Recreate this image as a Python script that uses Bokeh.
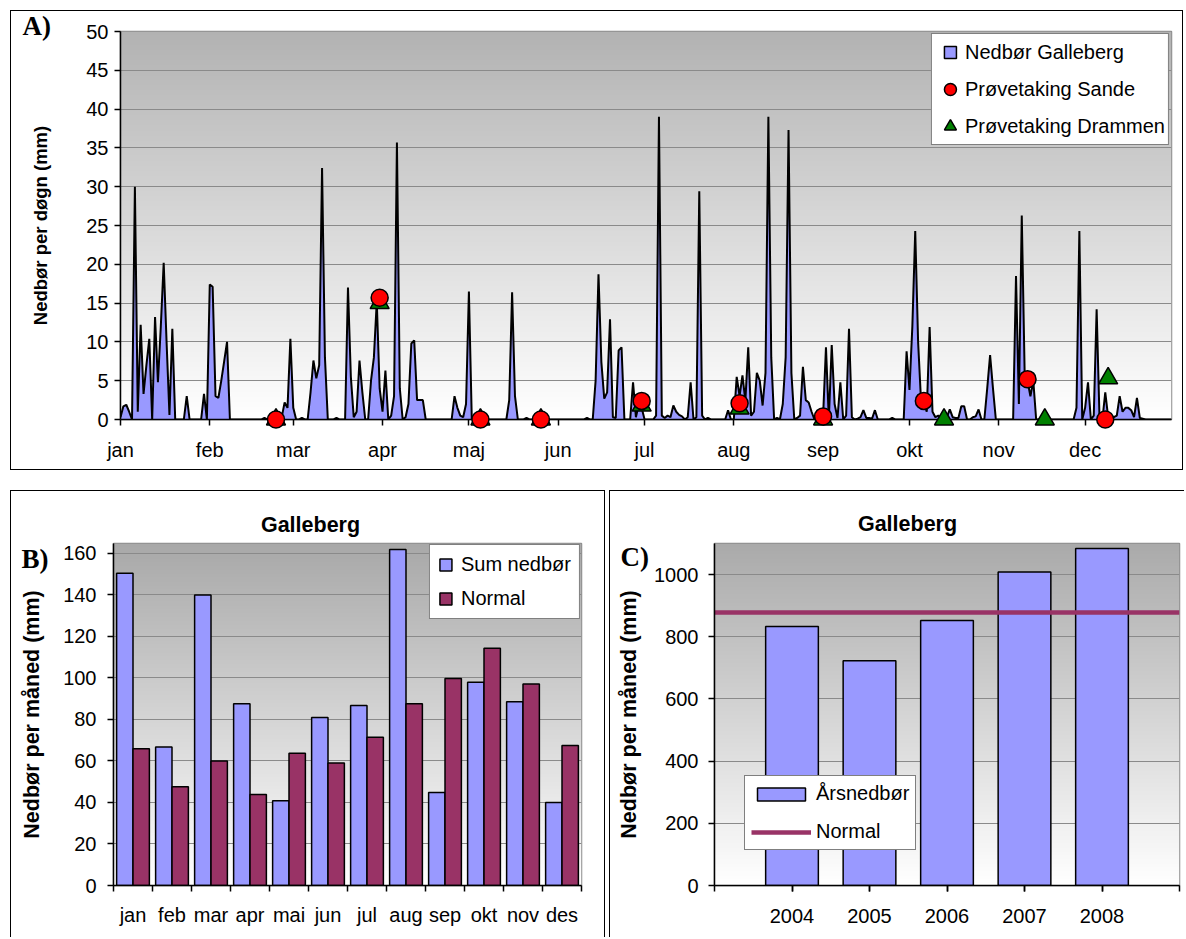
import numpy as np
from bokeh.plotting import figure
from bokeh.models import (Range1d, FixedTicker, SingleIntervalTicker, Legend, LegendItem,
                          Spacer)
from bokeh.layouts import column, row
from bokeh.embed import file_html
from bokeh.resources import INLINE
from bokeh.transform import dodge
from bokeh.core.properties import value

# ---------------- Panel A: daily precipitation Galleberg 2008 (mm) ----------------
jan = [0.3, 1.7, 1.9, 1.0, 0, 30, 1.0, 12.2, 3.3, 7, 10.4, 0, 13.2, 4.8, 12, 20.2, 10, 0.6, 11.7,
       0, 0, 0, 0, 3.0, 0, 0, 0, 0, 0, 3.3, 0]
feb = [17.4, 17.1, 3.0, 2.8, 5.0, 7.5, 10.0, 0, 0, 0, 0, 0, 0, 0, 0, 0, 0, 0, 0, 0.2, 0, 0, 0, 0,
       0, 0.3, 2.2, 1.5, 10.4]
mar = [1.5, 0, 0, 0.2, 0, 0, 3.5, 7.6, 5.3, 7.0, 32.4, 8, 0, 0, 0, 0.2, 0, 0, 0, 17.0, 5.5, 0.3,
       1.0, 7.6, 3.5, 0, 0, 5.0, 8.0, 15.2, 4]
apr = [1.0, 6.3, 0, 0.5, 3.0, 35.7, 4, 0, 0.3, 2.0, 9.8, 10.2, 2.5, 2.5, 2.5, 0, 0, 0, 0, 0, 0, 0,
       0, 0, 0, 3.0, 1.5, 0.5, 0.3, 2.0]
mai = [16.5, 0, 0, 0, 0, 0, 0, 0, 0, 0, 0, 0, 0, 0, 2.5, 16.4, 3.0, 0, 0, 0, 0.2, 0, 0, 0, 0, 0,
       0, 0, 0, 0, 0]
jun = [0, 0, 0, 0, 0, 0, 0, 0, 0, 0, 0.2, 0, 0, 5, 18.7, 7.4, 2.7, 3.5, 12.9, 0.3, 0.2, 8.9, 9.3,
       0, 0, 0, 4.8, 0.3, 2.0, 1.5]
jul = [0, 0, 0, 0, 0.5, 39, 0.5, 0.2, 0.5, 0.3, 1.8, 1.0, 0.6, 0.4, 0, 0.3, 4.8, 0, 0.3, 29.4,
       0.5, 0, 0.2, 0, 0, 0, 0, 0, 0, 1.2, 0]
aug = [0, 5.5, 3.0, 5.7, 2.4, 9.3, 0.5, 1.0, 6.0, 5.0, 1.8, 6, 39, 8, 0, 0.2, 0, 2, 8, 37.3, 6,
       0, 0.2, 0.5, 6.8, 2.5, 2.2, 1.0, 0, 0, 0]
sep = [0.4, 9.3, 0, 9.6, 2.0, 0.2, 4.8, 0, 0.5, 11.7, 0.3, 0, 0.1, 0.3, 1.2, 0.2, 0.2, 0.1, 1.2,
       0, 0, 0, 0, 0, 0.2, 0, 0, 0, 0, 8.8]
okt = [3.8, 12, 24.3, 10, 2.5, 2.2, 1.0, 11.9, 1.0, 0.3, 0.5, 0.2, 0, 0.3, 1.3, 0.3, 0.2, 0.2,
       1.7, 1.7, 0, 0, 0.3, 0.4, 1.3, 0, 0, 4, 8.3, 4, 0]
nov = [0, 0, 0, 0, 0, 0, 18.5, 2.0, 26.3, 6, 5, 3, 5, 0, 0, 0, 0, 0, 0, 0, 0, 0, 0, 0, 0, 0, 0,
       1.5, 24.3, 0]
dec = [1.5, 4.8, 0, 0.5, 14.2, 0.2, 0, 3.5, 0.3, 0.2, 0.3, 0.5, 3.0, 1.0, 1.5, 1.5, 1.2, 0.3,
       2.8, 0.2, 0.1, 0, 0, 0, 0, 0, 0, 0, 0, 0, 0]
month_labels_a = ["jan", "feb", "mar", "apr", "maj", "jun", "jul", "aug", "sep", "okt", "nov", "dec"]

# sampling days (day of year, 0 = 1 Jan) and plotted values
sande_days = [54, 90, 125, 146, 181, 215, 244, 279, 315, 342]
sande_vals = [0, 15.7, 0, 0, 2.4, 2.1, 0.4, 2.4, 5.2, 0]
drammen_days = [54, 90, 125, 146, 181, 215, 244, 286, 321, 343]
drammen_vals = [0, 15.0, 0, 0, 1.8, 1.4, 0, 0, 0, 5.3]

# ---------------- Panel B: monthly sums ----------------
months_b = ["jan", "feb", "mar", "apr", "mai", "jun", "jul", "aug", "sep", "okt", "nov", "des"]
sum_nedbor = [150.5, 66.7, 140, 87.6, 40.8, 81, 86.7, 161.9, 44.8, 97.9, 88.6, 40]
normal_month = [65.9, 47.6, 60, 43.8, 63.7, 59, 71.4, 87.6, 99.8, 114.3, 97.1, 67.5]

# ---------------- Panel C: yearly sums ----------------
years = [2004, 2005, 2006, 2007, 2008]
arsnedbor = [833, 723, 852, 1008, 1084]
normal_year = 878

FONT = "Liberation Sans"
SERIF = "Liberation Serif"
BLUE = "#9999FF"
PLUM = "#993366"


def gradient(top_gray, n=400):
    t = np.linspace(0, 1, n)
    g = np.round(255 - (255 - top_gray) * t).astype(np.uint32)
    rgba = (np.uint32(255) << 24) | (g << 16) | (g << 8) | g
    return rgba.reshape(n, 1)


def style_axes(p, ylabel, ysize, ystand, ylab_stand, xstand):
    for ax in (p.xaxis[0], p.yaxis[0]):
        ax.axis_line_color = "black"
        ax.axis_line_width = 1.5
        ax.major_tick_line_color = "black"
        ax.major_tick_line_width = 1.5
        ax.major_tick_in = 0
        ax.major_tick_out = 6
        ax.minor_tick_line_color = None
        ax.major_label_text_font = FONT
        ax.major_label_text_font_size = "20px"
        ax.major_label_text_color = "black"
    p.yaxis.axis_label = ylabel
    p.yaxis.axis_label_text_font = FONT
    p.yaxis.axis_label_text_font_style = "bold"
    p.yaxis.axis_label_text_font_size = ysize
    p.yaxis.axis_label_text_color = "black"
    p.yaxis.axis_label_standoff = ylab_stand
    p.yaxis.major_label_standoff = ystand
    p.xaxis.major_label_standoff = xstand
    p.xgrid.visible = False
    p.ygrid.grid_line_color = "#8a8a8a"
    p.ygrid.grid_line_width = 1
    p.outline_line_color = "#8c8c8c"
    p.outline_line_width = 1.5
    p.background_fill_color = "white"
    p.border_fill_color = "white"


def frame_text(p, text, dx_px, dy_px, frame_w, frame_h, font, size, align="left"):
    """Text placed dx_px/dy_px pixels from the frame's bottom-left corner (outside the frame)."""
    xr, yr = p.x_range, p.y_range
    x = xr.start + dx_px * (xr.end - xr.start) / frame_w
    y = yr.start + dy_px * (yr.end - yr.start) / frame_h
    p.text(x=[x], y=[y], text=[text], text_font=value(font), text_font_style="bold",
           text_font_size=size, text_baseline="middle", text_align=align,
           text_color="black", level="overlay")


def legend_common(**kw):
    return dict(label_text_font=FONT, label_text_font_size="20px", label_text_color="black",
                border_line_color="black", border_line_width=1,
                background_fill_color="white", background_fill_alpha=1.0, **kw)


# ======================= Panel A =======================
daily = jan + feb + mar + apr + mai + jun + jul + aug + sep + okt + nov + dec
days = list(range(len(daily)))
month_lengths = [len(m) for m in (jan, feb, mar, apr, mai, jun, jul, aug, sep, okt, nov, dec)]
month_starts = [int(v) for v in np.concatenate([[0], np.cumsum(month_lengths)[:-1]])]

A_W, A_H, A_L, A_R, A_T, A_B = 1173, 460, 109, 13, 20, 52
A_FW, A_FH = A_W - A_L - A_R, A_H - A_T - A_B
pA = figure(width=A_W, height=A_H, x_range=Range1d(0, days[-1]), y_range=Range1d(0, 50),
            output_backend="svg", toolbar_location=None,
            min_border_left=A_L, min_border_right=A_R, min_border_top=A_T, min_border_bottom=A_B)
pA.image_rgba(image=[gradient(178)], x=0, y=0, dw=days[-1], dh=50, level="image")
pA.varea(x=days, y1=0, y2=daily, fill_color=BLUE)
pA.line(x=days, y=daily, line_color="black", line_width=2)
tri = pA.scatter(drammen_days, drammen_vals, marker="triangle", size=19, fill_color="#008000",
                 line_color="black", line_width=1.5, level="overlay")
circ = pA.scatter(sande_days, sande_vals, marker="circle", size=17, fill_color="#FF0000",
                  line_color="black", line_width=1.5, level="overlay")
# legend swatch for the area series (not drawn in the plot: NaN position)
sq = pA.scatter(x=np.array([np.nan]), y=np.array([np.nan]), marker="square", fill_color=BLUE,
                line_color="black", line_width=1.5)

style_axes(pA, "Nedbør per døgn (mm)", "18.5px", 6, 32, 13)
pA.yaxis.ticker = SingleIntervalTicker(interval=5, num_minor_ticks=0)
pA.xaxis.ticker = FixedTicker(ticks=month_starts)
pA.xaxis.major_label_overrides = {d: m for d, m in zip(month_starts, month_labels_a)}

legA = Legend(items=[LegendItem(label="Nedbør Galleberg", renderers=[sq]),
                     LegendItem(label="Prøvetaking Sande", renderers=[circ]),
                     LegendItem(label="Prøvetaking Drammen", renderers=[tri])],
              **legend_common(location="top_right", margin=2, padding=3, spacing=7,
                              glyph_width=30, glyph_height=30, label_height=30,
                              label_standoff=0))
pA.add_layout(legA)
frame_text(pA, "A)", -98, 394, A_FW, A_FH, SERIF, "27px")
pA.styles = {"border": "1px solid black", "box-sizing": "border-box"}

# ======================= Panel B =======================
mx = list(range(1, len(months_b) + 1))
srcB = dict(x=mx, s=sum_nedbor, n=normal_month)
B_W, B_H, B_L, B_R, B_T, B_B = 595, 447, 102, 25, 48, 52
B_FW, B_FH = B_W - B_L - B_R, B_H - B_T - B_B
pB = figure(width=B_W, height=B_H, x_range=Range1d(0.5, len(mx) + 0.5),
            y_range=Range1d(0, 164.8), output_backend="svg", toolbar_location=None,
            min_border_left=B_L, min_border_right=B_R, min_border_top=B_T, min_border_bottom=B_B)
pB.image_rgba(image=[gradient(168)], x=0.5, y=0, dw=len(mx), dh=164.8, level="image")
bs = pB.vbar(x=dodge("x", -0.21), top="s", width=0.42, source=srcB, fill_color=BLUE,
             line_color="black", line_width=1.5)
bn = pB.vbar(x=dodge("x", 0.21), top="n", width=0.42, source=srcB, fill_color=PLUM,
             line_color="black", line_width=1.5)
style_axes(pB, "Nedbør per måned (mm)", "21.5px", 11, 16, 12)
pB.yaxis.ticker = SingleIntervalTicker(interval=20, num_minor_ticks=0)
pB.xaxis.ticker = FixedTicker(ticks=mx, minor_ticks=[v - 0.5 for v in mx] + [mx[-1] + 0.5])
pB.xaxis.major_label_overrides = {v: m for v, m in zip(mx, months_b)}
pB.xaxis.major_tick_out = 0
pB.xaxis.minor_tick_line_color = "black"
pB.xaxis.minor_tick_line_width = 1.5
pB.xaxis.minor_tick_in = 0
pB.xaxis.minor_tick_out = 6
legB = Legend(items=[LegendItem(label="Sum nedbør", renderers=[bs]),
                     LegendItem(label="Normal", renderers=[bn])],
              **legend_common(location="top_right", margin=1, padding=8, spacing=11,
                              glyph_width=15, glyph_height=15, label_standoff=8))
pB.add_layout(legB)
frame_text(pB, "Galleberg", 197, 366, B_FW, B_FH, FONT, "21.5px", align="center")
frame_text(pB, "B)", -92, 331, B_FW, B_FH, SERIF, "27px")
pB.styles = {"border-top": "1px solid black", "border-left": "1px solid black",
             "border-right": "1px solid black", "box-sizing": "border-box"}

# ======================= Panel C =======================
x_lo, x_hi = years[0] - 1, years[-1] + 1
C_W, C_H, C_L, C_R, C_T, C_B = 575, 447, 104, 6, 52, 53
C_FW, C_FH = C_W - C_L - C_R, C_H - C_T - C_B
pC = figure(width=C_W, height=C_H, x_range=Range1d(x_lo, x_hi), y_range=Range1d(0, 1100),
            output_backend="svg", toolbar_location=None,
            min_border_left=C_L, min_border_right=C_R, min_border_top=C_T, min_border_bottom=C_B)
pC.image_rgba(image=[gradient(170)], x=x_lo, y=0, dw=x_hi - x_lo, dh=1100, level="image")
by = pC.vbar(x=years, top=arsnedbor, width=0.68, fill_color=BLUE, line_color="black",
             line_width=1.5)
ln = pC.line(x=[x_lo, x_hi], y=[normal_year, normal_year], line_color=PLUM, line_width=4.5)
style_axes(pC, "Nedbør per måned (mm)", "21.5px", 10, 10, 17)
pC.yaxis.ticker = SingleIntervalTicker(interval=200, num_minor_ticks=0)
pC.xaxis.ticker = FixedTicker(ticks=years, minor_ticks=list(range(x_lo, x_hi + 1)))
pC.xaxis.minor_tick_line_color = "black"
pC.xaxis.minor_tick_line_width = 1.5
pC.xaxis.minor_tick_in = 0
pC.xaxis.minor_tick_out = 6
legC = Legend(items=[LegendItem(label="Årsnedbør", renderers=[by]),
                     LegendItem(label="Normal", renderers=[ln])],
              **legend_common(location=(30, 35), padding=6, spacing=15,
                              glyph_width=60, glyph_height=16, label_standoff=5))
pC.add_layout(legC)
frame_text(pC, "Galleberg", 193, 362, C_FW, C_FH, FONT, "21.5px", align="center")
frame_text(pC, "C)", -94, 329, C_FW, C_FH, SERIF, "27px")
pC.styles = {"border-top": "1px solid black", "border-left": "1px solid black",
             "box-sizing": "border-box"}

layout = column(Spacer(height=10),
                row(Spacer(width=10), pA),
                Spacer(height=20),
                row(Spacer(width=10), pB, Spacer(width=4), pC))
open("out.html", "w").write(file_html(layout, INLINE, "Nedbør Galleberg"))
